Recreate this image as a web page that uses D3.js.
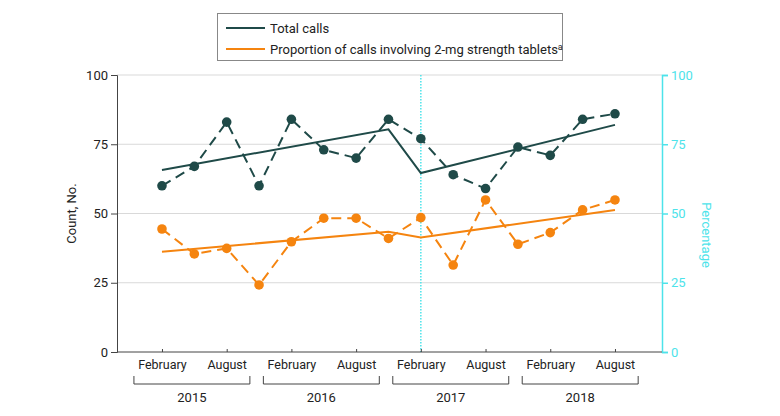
<!DOCTYPE html>
<html>
<head>
<meta charset="utf-8">
<script src="https://cdn.jsdelivr.net/npm/d3@7"></script>
<style>
  body { margin: 0; background: #fff; }
  text { font-family: Roboto, "Noto Sans", sans-serif; fill: #222; }
</style>
</head>
<body>
<script>
// months counted from Jan 2015 (0); observations are quarterly
var months = [1, 4, 7, 10, 13, 16, 19, 22, 25, 28, 31, 34, 37, 40, 43];
var totalCalls = [60, 67, 83, 60, 84, 73, 70, 84, 77, 64, 59, 74, 71, 84, 86];
var proportion2mg = [44.4, 35.4, 37.4, 24.2, 39.8, 48.3, 48.3, 41.0, 48.5, 31.4, 54.9, 38.9, 43.1, 51.3, 54.9];

// segmented regression fits (before / after Feb 2017)
var trendMonths = [1, 22, 25, 43];
var totalTrend = [65.7, 80.4, 64.6, 82.0];
var propTrend = [36.2, 43.4, 41.3, 51.3];

var tickMonths = [1, 7, 13, 19, 25, 31, 37, 43];
var tickLabels = ["February", "August", "February", "August", "February", "August", "February", "August"];
var years = ["2015", "2016", "2017", "2018"];
var yTicks = [0, 25, 50, 75, 100];
var interventionMonth = 25;

var tealColor = "#1f4a48";
var orangeColor = "#f5840f";
var cyanColor = "#4de3ea";

var width = 780, height = 416;
var margin = {top: 75, right: 118, bottom: 64, left: 117};

var svg = d3.select("body").append("svg")
  .attr("width", width)
  .attr("height", height);

var x = d3.scaleLinear()
  .domain([-3.17, 47.36])
  .range([margin.left, width - margin.right]);

var y = d3.scaleLinear()
  .domain([0, 100])
  .range([height - margin.bottom, margin.top]);

// gridlines
svg.append("g")
  .selectAll("line")
  .data(yTicks.filter(function(d) { return d > 0; }))
  .enter().append("line")
  .attr("x1", x.range()[0])
  .attr("x2", x.range()[1])
  .attr("y1", function(d) { return y(d); })
  .attr("y2", function(d) { return y(d); })
  .style("stroke", "#d9d9d9")
  .style("stroke-width", 1);

// intervention line
svg.append("line")
  .attr("x1", x(interventionMonth))
  .attr("x2", x(interventionMonth))
  .attr("y1", y(100))
  .attr("y2", y(0))
  .style("stroke", cyanColor)
  .style("stroke-width", 1.5)
  .style("stroke-dasharray", "1.5,1.5");

// left axis
var yAxis = d3.axisLeft(y).tickValues(yTicks).tickSize(6).tickPadding(3);
var gy = svg.append("g")
  .attr("transform", "translate(" + margin.left + ",0)")
  .call(yAxis);
gy.select(".domain").style("stroke", "#444");
gy.selectAll(".tick line").style("stroke", "#444");
gy.selectAll("text").style("font-size", "13px").style("font-family", "Roboto, sans-serif").style("fill", "#222");

// right axis
var yAxisR = d3.axisRight(y).tickValues(yTicks).tickSize(6).tickPadding(3);
var gyr = svg.append("g")
  .attr("transform", "translate(" + (width - margin.right) + ",0)")
  .call(yAxisR);
gyr.select(".domain").style("stroke", cyanColor).style("stroke-width", 1.5);
gyr.selectAll(".tick line").style("stroke", cyanColor).style("stroke-width", 1.5);
gyr.selectAll("text").style("font-size", "13px").style("font-family", "Roboto, sans-serif").style("fill", cyanColor);

// bottom axis
var xAxis = d3.axisBottom(x).tickValues(tickMonths).tickSize(-3).tickPadding(8)
  .tickFormat(function(d, i) { return tickLabels[i]; });
var gx = svg.append("g")
  .attr("transform", "translate(0," + y(0) + ")")
  .call(xAxis);
gx.select(".domain").style("stroke", "#444").attr("d", "M" + x.range()[0] + ",0H" + x.range()[1]);
gx.selectAll(".tick line").style("stroke", "#444");
gx.selectAll("text").style("font-size", "12.5px").style("font-family", "Roboto, sans-serif").style("fill", "#222");

// year brackets
var brackets = svg.append("g");
years.forEach(function(yr, i) {
  var x0 = x(12 * i - 1.6), x1 = x(12 * i + 9.15);
  var by = y(0) + 32;
  brackets.append("path")
    .attr("d", "M" + x0 + "," + (by - 8) + "V" + by + "H" + x1 + "V" + (by - 8))
    .style("fill", "none")
    .style("stroke", "#444")
    .style("stroke-width", 1);
  brackets.append("text")
    .attr("x", (x0 + x1) / 2)
    .attr("y", by + 18)
    .style("text-anchor", "middle")
    .style("font-size", "13px")
    .text(yr);
});

// axis titles
svg.append("text")
  .attr("transform", "translate(" + 76 + "," + ((y(0) + y(100)) / 2) + ") rotate(-90)")
  .style("text-anchor", "middle")
  .style("font-size", "13px")
  .text("Count, No.");

svg.append("text")
  .attr("transform", "translate(" + 702 + "," + 235 + ") rotate(90)")
  .style("text-anchor", "middle")
  .style("font-size", "13px")
  .style("fill", cyanColor)
  .text("Percentage");

// series
function drawSeries(values, trend, color) {
  var pts = months.map(function(m, i) { return [m, values[i]]; });
  var line = d3.line()
    .x(function(d) { return x(d[0]); })
    .y(function(d) { return y(d[1]); });

  svg.append("path")
    .datum(pts)
    .attr("d", line)
    .style("fill", "none")
    .style("stroke", color)
    .style("stroke-width", 2)
    .style("stroke-dasharray", "10,6");

  svg.append("path")
    .datum(trendMonths.map(function(m, i) { return [m, trend[i]]; }))
    .attr("d", line)
    .style("fill", "none")
    .style("stroke", color)
    .style("stroke-width", 2);

  svg.append("g")
    .selectAll("circle")
    .data(pts)
    .enter().append("circle")
    .attr("cx", function(d) { return x(d[0]); })
    .attr("cy", function(d) { return y(d[1]); })
    .attr("r", 4.8)
    .style("fill", color);
}

drawSeries(totalCalls, totalTrend, tealColor);
drawSeries(proportion2mg, propTrend, orangeColor);

// legend
var legend = svg.append("g");
legend.append("rect")
  .attr("x", 217.5)
  .attr("y", 13.5)
  .attr("width", 345)
  .attr("height", 47)
  .style("fill", "#fff")
  .style("stroke", "#888")
  .style("stroke-width", 1);

var legendItems = [
  {label: "Total calls", color: tealColor},
  {label: "Proportion of calls involving 2-mg strength tablets", color: orangeColor, sup: "a"}
];
legendItems.forEach(function(d, i) {
  var ly = 28 + i * 21;
  legend.append("line")
    .attr("x1", 226).attr("x2", 265)
    .attr("y1", ly).attr("y2", ly)
    .style("stroke", d.color)
    .style("stroke-width", 2);
  var t = legend.append("text")
    .attr("x", 270)
    .attr("y", ly)
    .attr("dy", "0.35em")
    .style("font-size", "13px")
    .text(d.label);
  if (d.sup) {
    t.append("tspan")
      .attr("dy", "-0.45em")
      .style("font-size", "9px")
      .text(d.sup);
  }
});
</script>
</body>
</html>
